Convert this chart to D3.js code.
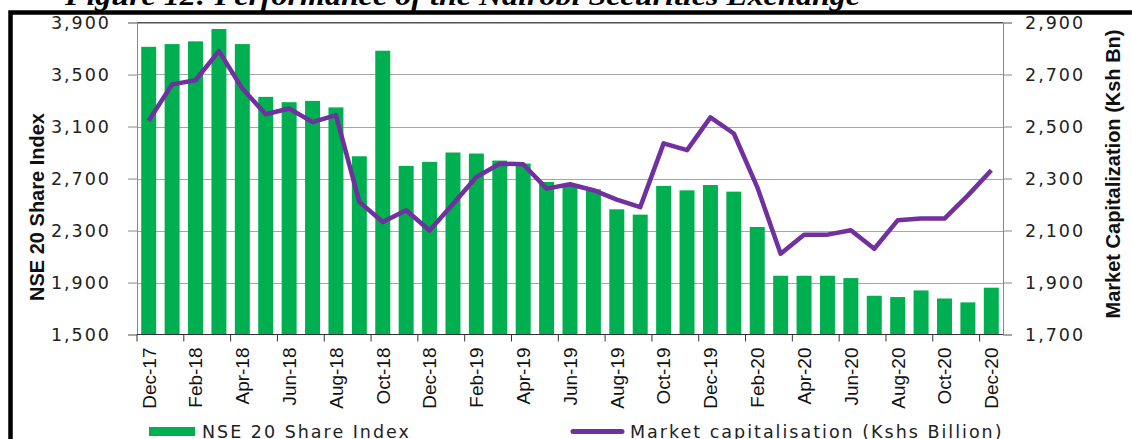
<!DOCTYPE html>
<html>
<head>
<meta charset="utf-8">
<script src="https://cdn.jsdelivr.net/npm/d3@7"></script>
<style>
  body { margin: 0; background: #fff; }
  svg { display: block; }
  .num { font-family: "DejaVu Sans", Verdana, sans-serif; font-size: 17.5px; fill: #222; letter-spacing: 2px; }
  .narrow { font-family: "Liberation Sans Narrow", "Arial Narrow", "Liberation Sans", sans-serif; fill: #111; }
</style>
</head>
<body>
<svg id="chart" width="1132" height="439"></svg>
<script>
const months = ["Dec-17","Jan-18","Feb-18","Mar-18","Apr-18","May-18","Jun-18","Jul-18","Aug-18","Sep-18","Oct-18","Nov-18",
  "Dec-18","Jan-19","Feb-19","Mar-19","Apr-19","May-19","Jun-19","Jul-19","Aug-19","Sep-19","Oct-19","Nov-19",
  "Dec-19","Jan-20","Feb-20","Mar-20","Apr-20","May-20","Jun-20","Jul-20","Aug-20","Sep-20","Oct-20","Nov-20","Dec-20"];

// NSE 20 share index (left axis)
const nse20 = [3713,3734,3755,3850,3734,3328,3287,3297,3247,2871,3683,2797,
  2828,2900,2892,2838,2815,2673,2650,2617,2463,2422,2643,2609,
  2650,2599,2327,1952,1952,1952,1934,1798,1788,1839,1777,1747,1860];

// market capitalisation, Kshs billion (right axis)
const marketCap = [2522,2662,2678,2790,2646,2547,2569,2517,2544,2210,2133,2178,
  2100,2202,2306,2357,2355,2261,2278,2255,2219,2190,2435,2409,
  2535,2473,2267,2011,2084,2084,2101,2030,2139,2146,2146,2235,2332];

const leftTicks  = [1500,1900,2300,2700,3100,3500,3900];
const rightTicks = [1700,1900,2100,2300,2500,2700,2900];
const labelMonths = months.filter((d, i) => i % 2 === 0);

const W = 1132, H = 439;
const plot = {left: 137, right: 1003, top: 22.5, bottom: 334.5};

const svg = d3.select("#chart");
const fmt = d3.format(",");

const x = d3.scaleBand().domain(months).range([plot.left, plot.right]).paddingInner(0.36).paddingOuter(0.18);
const yL = d3.scaleLinear().domain([1500, 3900]).range([plot.bottom, plot.top]);
const yR = d3.scaleLinear().domain([1700, 2900]).range([plot.bottom, plot.top]);
const edge = d => x(d) - x.step() * 0.18; // left boundary of a category

// title, mostly cut off by the top of the picture
svg.append("text")
  .attr("x", 65).attr("y", 5)
  .attr("textLength", 795).attr("lengthAdjust", "spacingAndGlyphs")
  .style("font-family", "'Liberation Serif', 'Times New Roman', serif")
  .style("font-size", "28px").style("font-weight", "bold").style("font-style", "italic")
  .text("Figure 12: Performance of the Nairobi Securities Exchange");

// outer black frame
svg.append("rect")
  .attr("x", 10.5).attr("y", 12.5).attr("width", 1200).attr("height", 500)
  .attr("fill", "none").attr("stroke", "#000").attr("stroke-width", 4.5);

// gridlines
svg.append("g").selectAll("line")
  .data(leftTicks.slice(1))
  .join("line")
  .attr("x1", plot.left).attr("x2", plot.right)
  .attr("y1", d => Math.round(yL(d)) + 0.5).attr("y2", d => Math.round(yL(d)) + 0.5)
  .attr("stroke", "#a6a6a6").attr("stroke-width", 1.2);

// bars
svg.append("g").selectAll("rect")
  .data(nse20)
  .join("rect")
  .attr("x", (d, i) => x(months[i]))
  .attr("width", x.bandwidth())
  .attr("y", d => yL(d))
  .attr("height", d => yL(1500) - yL(d))
  .attr("fill", "#00b050");

// line
const line = d3.line()
  .x((d, i) => x(months[i]) + x.bandwidth() / 2)
  .y(d => yR(d));
svg.append("path")
  .datum(marketCap)
  .attr("d", line)
  .attr("fill", "none")
  .attr("stroke", "#7030a0")
  .attr("stroke-width", 4.5)
  .attr("stroke-linejoin", "round");

// plot frame top
svg.append("line")
  .attr("x1", plot.left).attr("x2", plot.right)
  .attr("y1", plot.top).attr("y2", plot.top)
  .attr("stroke", "#555").attr("stroke-width", 1);

// left axis
const axL = svg.append("g")
  .attr("transform", `translate(${plot.left},0)`)
  .call(d3.axisLeft(yL).tickValues(leftTicks).tickFormat(fmt).tickSize(9).tickPadding(17));
axL.select(".domain").attr("stroke", "#888");
axL.selectAll(".tick line").attr("stroke", "#888");
axL.selectAll("text").attr("class", "num").attr("fill", null);

// right axis
const axR = svg.append("g")
  .attr("transform", `translate(${plot.right},0)`)
  .call(d3.axisRight(yR).tickValues(rightTicks).tickFormat(fmt).tickSize(9).tickPadding(13));
axR.select(".domain").attr("stroke", "#888");
axR.selectAll(".tick line").attr("stroke", "#888");
axR.selectAll("text").attr("class", "num").attr("fill", null);

// bottom axis: labels at every other category centre, ticks on category edges
const axB = svg.append("g")
  .attr("transform", `translate(0,${plot.bottom})`)
  .call(d3.axisBottom(x).tickValues(labelMonths).tickSize(0).tickPadding(0));
axB.select(".domain").attr("stroke", "#333").attr("d", `M${plot.left},0H${plot.right}`);
axB.selectAll("text")
  .attr("class", "narrow")
  .attr("fill", null)
  .style("font-size", "19px")
  .attr("text-anchor", "end")
  .attr("transform", "translate(0,13) rotate(-90)")
  .attr("x", 0).attr("y", 0).attr("dy", "0.36em");
svg.append("g").selectAll("line")
  .data(labelMonths)
  .join("line")
  .attr("x1", d => edge(d)).attr("x2", d => edge(d))
  .attr("y1", plot.bottom).attr("y2", plot.bottom + 7)
  .attr("stroke", "#333");

// axis titles
svg.append("text")
  .attr("class", "narrow")
  .attr("transform", "translate(44,207) rotate(-90)")
  .attr("text-anchor", "middle")
  .style("font-size", "20px").style("font-weight", "bold")
  .text("NSE 20 Share Index");
svg.append("text")
  .attr("class", "narrow")
  .attr("transform", "translate(1120,174) rotate(-90)")
  .attr("text-anchor", "middle")
  .style("font-size", "20px").style("font-weight", "bold")
  .text("Market Capitalization  (Ksh Bn)");

// legend
const legend = svg.append("g");
legend.append("rect")
  .attr("x", 149).attr("y", 427).attr("width", 46).attr("height", 9)
  .attr("fill", "#00b050");
legend.append("text")
  .attr("class", "num").attr("x", 202).attr("y", 438)
  .text("NSE 20 Share Index");
legend.append("line")
  .attr("x1", 573).attr("x2", 622).attr("y1", 431.5).attr("y2", 431.5)
  .attr("stroke", "#7030a0").attr("stroke-width", 5).attr("stroke-linecap", "round");
legend.append("text")
  .attr("class", "num").attr("x", 630).attr("y", 438)
  .text("Market capitalisation (Kshs Billion)");
</script>
</body>
</html>
